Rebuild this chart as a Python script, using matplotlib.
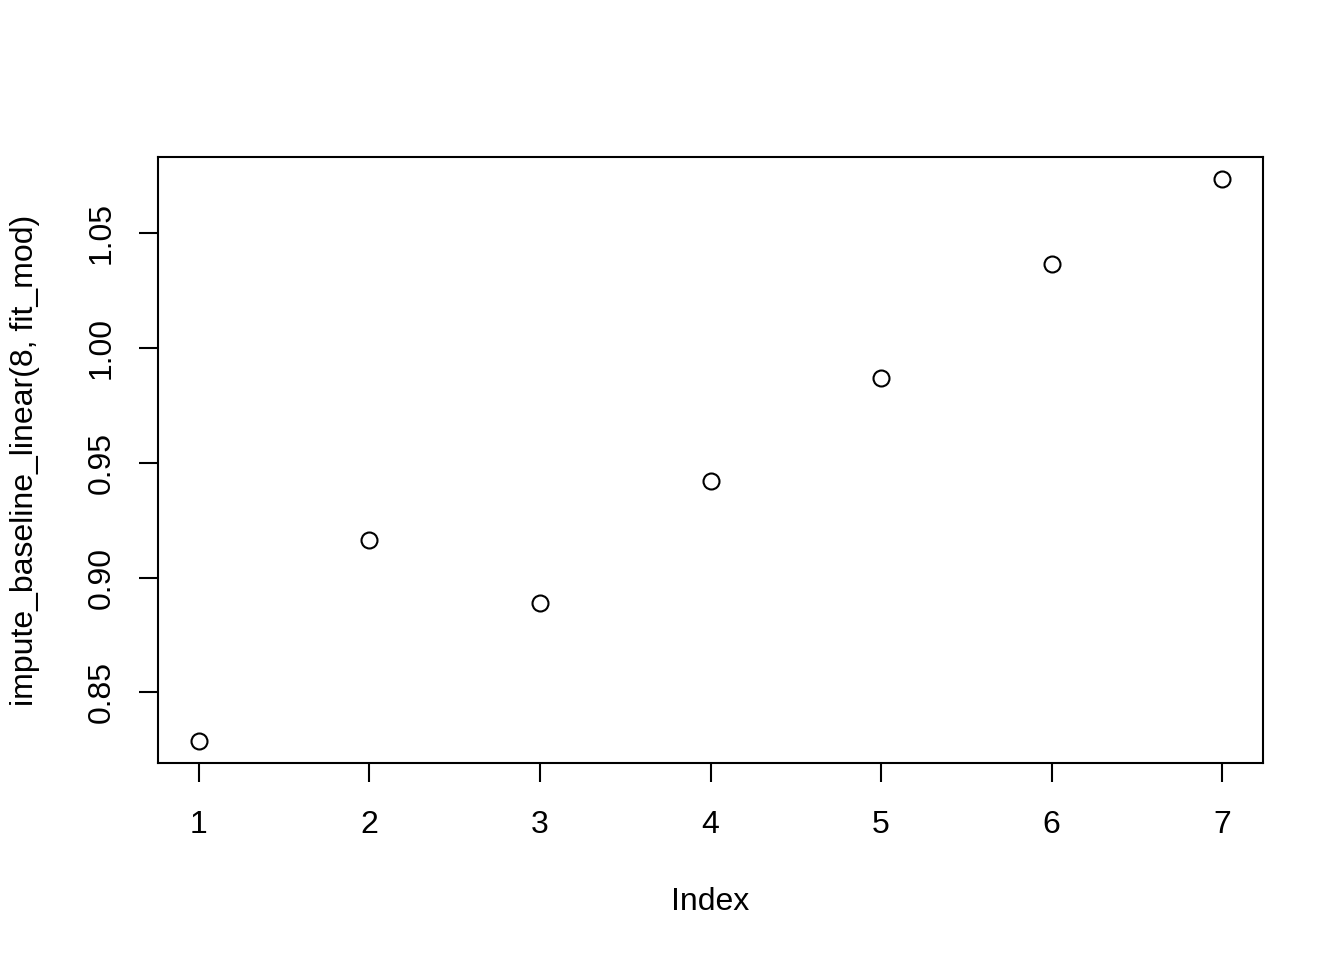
import matplotlib
matplotlib.use("Agg")
import matplotlib.pyplot as plt

index = [1, 2, 3, 4, 5, 6, 7]
values = [0.829, 0.9165, 0.8891, 0.9422, 0.987, 1.0365, 1.0735]
x_ticks = [1, 2, 3, 4, 5, 6, 7]
y_ticks = [0.85, 0.90, 0.95, 1.00, 1.05]
y_tick_labels = ["0.85", "0.90", "0.95", "1.00", "1.05"]
x_label = "Index"
y_label = "impute_baseline_linear(8, fit_mod)"

plt.rcParams['font.family'] = ['Liberation Sans', 'DejaVu Sans']

fig = plt.figure(figsize=(13.44, 9.6), dpi=100)
ax = fig.add_axes([158/1344, 1-763/960, (1263-158)/1344, (763-157)/960])

ax.plot(index, values, linestyle='none', marker='o', markersize=11.5,
        markerfacecolor='none', markeredgecolor='black', markeredgewidth=1.5)

xr = max(index) - min(index)
ax.set_xlim(min(index) - 0.04*xr, max(index) + 0.04*xr)
yr = max(values) - min(values)
ax.set_ylim(min(values) - 0.04*yr, max(values) + 0.04*yr)

ax.set_xticks(x_ticks)
ax.set_xticklabels([str(v) for v in x_ticks])
ax.set_yticks(y_ticks)
ax.set_yticklabels(y_tick_labels, rotation=90, va='center')

for s in ax.spines.values():
    s.set_linewidth(1.5)

ax.tick_params(axis='both', length=14, width=1.5, labelsize=23, direction='out')
ax.tick_params(axis='x', pad=20)
ax.tick_params(axis='y', pad=16)

fig.text(710/1344, 1-902/960, x_label, ha='center', va='center', fontsize=23)
fig.text(25/1344, 1-(157+763)/2/960, y_label, ha='center', va='center', fontsize=23, rotation=90)

fig.savefig("out.png", dpi=100)
